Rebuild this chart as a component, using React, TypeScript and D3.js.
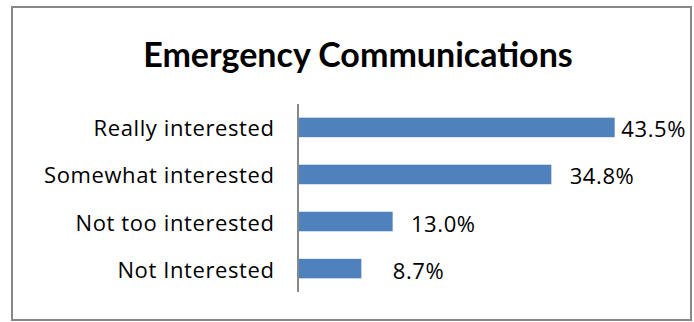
import React from "react";
import * as d3 from "d3";

const categories = ["Really interested", "Somewhat interested", "Not too interested", "Not Interested"];
const values = [43.5, 34.8, 13.0, 8.7];
const valueLabels = ["43.5%", "34.8%", "13.0%", "8.7%"];
const title = "Emergency Communications";

const W = 694;
const H = 322;
const TITLE_FONT = "Lato, 'Open Sans', sans-serif";
const FONT = "'Open Sans', sans-serif";

export default function App() {
  const x0 = 298;
  const x = d3.scaleLinear().domain([0, 100]).range([x0, x0 + 728]);
  const y = d3.scaleBand<string>().domain(categories).range([104, 292]).paddingInner(0.585).paddingOuter(0.29);
  const labelMaxRight = 686;
  const labelW = 66;
  return (
    <svg width={W} height={H} style={{ position: "absolute", left: 0, top: 0, background: "#fff" }}>
      <rect x={12} y={7} width={679} height={313} fill="#fff" stroke="#888" strokeWidth={2} />
      <text x={358} y={58} textAnchor="middle" dominantBaseline="middle" fontFamily={TITLE_FONT} fontWeight="bold" fontSize={34} fill="#000">
        {title}
      </text>
      {categories.map((c, i) => {
        const yc = (y(c) as number) + y.bandwidth() / 2;
        const xe = x(values[i]);
        const lx = Math.min(xe + 17 + labelW, labelMaxRight);
        return (
          <g key={c}>
            <rect x={x0} y={y(c)} width={xe - x0} height={y.bandwidth()} fill="#4F81BD" />
            <text x={274.5} y={yc} textAnchor="end" dominantBaseline="central" fontFamily={FONT} fontSize={22} letterSpacing={0.6} fill="#000">
              {c}
            </text>
            <text x={lx} y={yc + 1} textAnchor="end" dominantBaseline="central" fontFamily={FONT} fontSize={22} letterSpacing={0.6} fill="#000">
              {valueLabels[i]}
            </text>
          </g>
        );
      })}
      <line x1={x0} x2={x0} y1={104} y2={292} stroke="#888" strokeWidth={2} />
    </svg>
  );
}
